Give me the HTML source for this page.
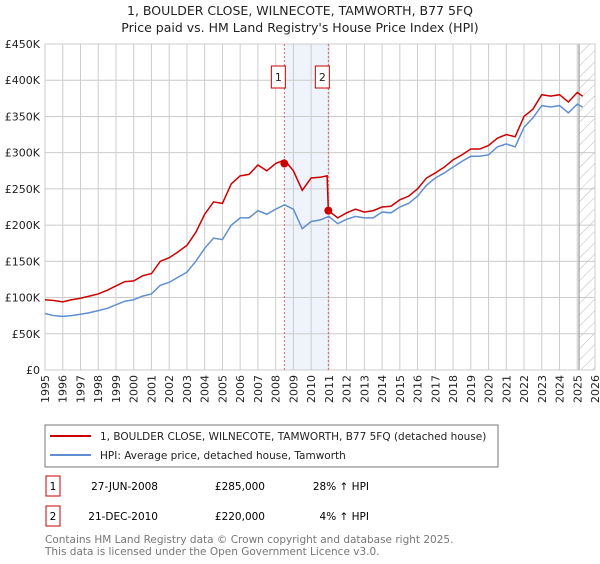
<!DOCTYPE html>
<html><head><meta charset="utf-8"><style>
body{margin:0;background:#fff;font-family:"DejaVu Sans","Liberation Sans",sans-serif;}
svg text{font-family:"DejaVu Sans","Liberation Sans",sans-serif;}
</style></head><body>
<svg id="chart" width="600" height="560" xmlns="http://www.w3.org/2000/svg">
<defs><pattern id="hatch" width="8" height="8" patternUnits="userSpaceOnUse" patternTransform="rotate(45)"><line x1="0" y1="0" x2="0" y2="8" stroke="#bbb" stroke-width="1"/></pattern></defs>
<text x="300" y="15" text-anchor="middle" font-size="12.5" fill="#222">1, BOULDER CLOSE, WILNECOTE, TAMWORTH, B77 5FQ</text>
<text x="300" y="32" text-anchor="middle" font-size="12.5" fill="#222">Price paid vs. HM Land Registry's House Price Index (HPI)</text>
<g id="plot"></g>
<rect x="45" y="425" width="453" height="42" fill="#fff" stroke="#777"/>
<line x1="50" y1="436" x2="91" y2="436" stroke="#cc0000" stroke-width="2"/>
<text x="100" y="440" font-size="10.5" fill="#222">1, BOULDER CLOSE, WILNECOTE, TAMWORTH, B77 5FQ (detached house)</text>
<line x1="50" y1="455" x2="91" y2="455" stroke="#5f8fd0" stroke-width="2"/>
<text x="100" y="459" font-size="10.5" fill="#222">HPI: Average price, detached house, Tamworth</text>
<rect x="46" y="476" width="14" height="20" fill="#fff" stroke="#cc0000"/>
<text x="53" y="490" text-anchor="middle" font-size="10.5">1</text>
<text x="158" y="490" text-anchor="end" font-size="10.5">27-JUN-2008</text>
<text x="265" y="490" text-anchor="end" font-size="10.5">£285,000</text>
<text x="369" y="490" text-anchor="end" font-size="10.5">28% ↑ HPI</text>
<rect x="46" y="506" width="14" height="20" fill="#fff" stroke="#cc0000"/>
<text x="53" y="520" text-anchor="middle" font-size="10.5">2</text>
<text x="158" y="520" text-anchor="end" font-size="10.5">21-DEC-2010</text>
<text x="265" y="520" text-anchor="end" font-size="10.5">£220,000</text>
<text x="369" y="520" text-anchor="end" font-size="10.5">4% ↑ HPI</text>
<text x="45" y="543" font-size="10.5" fill="#777">Contains HM Land Registry data © Crown copyright and database right 2025.</text>
<text x="45" y="555" font-size="10.5" fill="#777">This data is licensed under the Open Government Licence v3.0.</text>
</svg>
<script>
const hpiYears=[1995,1995.5,1996,1996.5,1997,1997.5,1998,1998.5,1999,1999.5,2000,2000.5,2001,2001.5,2002,2002.5,2003,2003.5,2004,2004.5,2005,2005.5,2006,2006.5,2007,2007.5,2008,2008.5,2009,2009.5,2010,2010.5,2011,2011.5,2012,2012.5,2013,2013.5,2014,2014.5,2015,2015.5,2016,2016.5,2017,2017.5,2018,2018.5,2019,2019.5,2020,2020.5,2021,2021.5,2022,2022.5,2023,2023.5,2024,2024.5,2025,2025.3];
const hpiValues=[78,75,74,75,77,79,82,85,90,95,97,102,105,117,121,128,135,150,168,182,180,200,210,210,220,215,222,228,222,195,205,207,212,202,208,212,210,210,218,217,225,230,240,255,265,272,280,288,295,295,297,308,312,308,335,348,365,363,365,355,367,363];
const propYears=[1995,1995.5,1996,1996.5,1997,1997.5,1998,1998.5,1999,1999.5,2000,2000.5,2001,2001.5,2002,2002.5,2003,2003.5,2004,2004.5,2005,2005.5,2006,2006.5,2007,2007.5,2008,2008.49,2009,2009.5,2010,2010.5,2010.9,2010.97,2011.5,2012,2012.5,2013,2013.5,2014,2014.5,2015,2015.5,2016,2016.5,2017,2017.5,2018,2018.5,2019,2019.5,2020,2020.5,2021,2021.5,2022,2022.5,2023,2023.5,2024,2024.5,2025,2025.3];
const propValues=[97,96,94,97,99,102,105,110,116,122,123,130,133,150,155,163,172,190,215,232,230,257,268,270,283,275,285,290,275,248,265,266,268,220,210,217,222,218,220,225,226,235,240,250,265,272,280,290,297,305,305,310,320,325,322,350,360,380,378,380,370,383,378];
const saleYears=[2008.49,2010.97];
const saleValues=[285,220];
const saleLabels=["1","2"];
const yTicks=[0,50,100,150,200,250,300,350,400,450];
const xTicks=[1995,1996,1997,1998,1999,2000,2001,2002,2003,2004,2005,2006,2007,2008,2009,2010,2011,2012,2013,2014,2015,2016,2017,2018,2019,2020,2021,2022,2023,2024,2025,2026];
const L=45,R=595,T=44,B=370,X0=1995,X1=2026,YMAX=450;
const xs=v=>L+(v-X0)/(X1-X0)*(R-L);
const ys=v=>B-v/YMAX*(B-T);
const NS="http://www.w3.org/2000/svg";
const g=document.getElementById('plot');
function mk(t,a){const e=document.createElementNS(NS,t);for(const k in a)e.setAttribute(k,a[k]);g.appendChild(e);return e;}
let e;
e=mk('rect',{x:xs(saleYears[0]),y:T,width:xs(saleYears[1])-xs(saleYears[0]),height:B-T,fill:'#eef3fc'});


yTicks.forEach(v=>{
 e=mk('line',{x1:L,x2:R,y1:ys(v),y2:ys(v),stroke:'#ccc','stroke-width':1});
 
 
 e=mk('text',{x:L-5,y:ys(v)+4,'text-anchor':'end','font-size':11,fill:'#222'});
 e.textContent=v===0?'£0':'£'+v+'K';
 
 
});
xTicks.forEach(v=>{
 e=mk('line',{x1:xs(v),x2:xs(v),y1:T,y2:B,stroke:'#ccc','stroke-width':1});
 
 
 e=mk('text',{x:0,y:0,'text-anchor':'end','font-size':11,fill:'#222',transform:`translate(${xs(v)+4},${B+5}) rotate(-90)`});
 e.textContent=v;
 
 
});
e=mk('rect',{x:xs(2025.1),y:T,width:R-xs(2025.1),height:B-T,fill:'url(#hatch)'});


e=mk('line',{x1:xs(2025.1),x2:xs(2025.1),y1:T,y2:B,stroke:'#888','stroke-width':1});


e=mk('rect',{x:L,y:T,width:R-L,height:B-T,fill:'none',stroke:'#ccc'});


saleYears.forEach((v,i)=>{
 e=mk('line',{x1:xs(v),x2:xs(v),y1:T,y2:B,stroke:'#e06060','stroke-width':1,'stroke-dasharray':'2,2'});
 
 
 e=mk('rect',{x:xs(v)-13,y:66,width:14,height:22,fill:'#fff',stroke:'#cc0000'});
 
 
 e=mk('text',{x:xs(v)-6,y:81,'text-anchor':'middle','font-size':11,fill:'#222'});
 e.textContent=saleLabels[i];
 
 
});
e=mk('polyline',{points:hpiYears.map((y,i)=>xs(y)+','+ys(hpiValues[i])).join(' '),fill:'none',stroke:'#5f8fd0','stroke-width':1.5});


e=mk('polyline',{points:propYears.map((y,i)=>xs(y)+','+ys(propValues[i])).join(' '),fill:'none',stroke:'#cc0000','stroke-width':1.5});


saleYears.forEach((v,i)=>{
 e=mk('circle',{cx:xs(v),cy:ys(saleValues[i]),r:4,fill:'#cc0000'});
 
 
});
</script>
</body></html>
